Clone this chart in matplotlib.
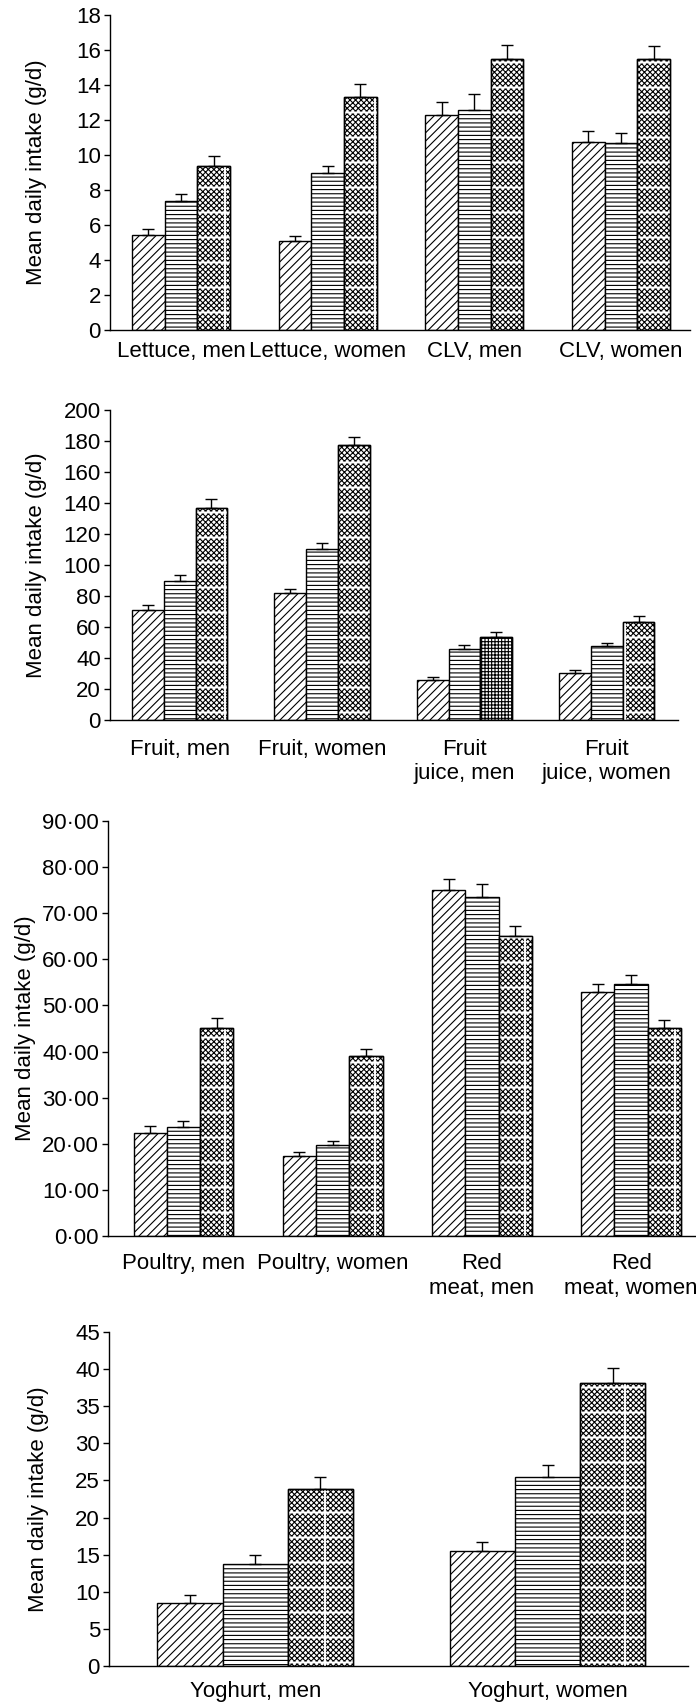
import warnings
import numpy as np
import matplotlib
matplotlib.use('Agg')
import matplotlib.pyplot as plt
import matplotlib.hatch as mhatch
from matplotlib.path import Path
from matplotlib.ticker import FuncFormatter, MultipleLocator

warnings.filterwarnings('ignore', message='hatch must consist')

plt.rcParams['font.family'] = ['Liberation Sans', 'DejaVu Sans']
plt.rcParams['hatch.linewidth'] = 0.8

# ---- data: mean intake by tertile (low, mid, high) and upper SE ----
veg_labels = ['Lettuce, men', 'Lettuce, women', 'CLV, men', 'CLV, women']
veg_means = [[5.45, 5.1, 12.3, 10.75],
             [7.35, 8.95, 12.6, 10.7],
             [9.35, 13.3, 15.5, 15.5]]
veg_se = [[0.3, 0.25, 0.75, 0.65],
          [0.45, 0.4, 0.9, 0.55],
          [0.6, 0.75, 0.8, 0.75]]

fruit_labels = ['Fruit, men', 'Fruit, women', 'Fruit\njuice, men', 'Fruit\njuice, women']
fruit_means = [[71, 82, 25.5, 30.5],
               [89.5, 110.5, 45.5, 47.5],
               [137, 177.5, 53.5, 63.5]]
fruit_se = [[3.5, 2.5, 2, 2],
            [4, 3.5, 3, 2.5],
            [5.5, 5, 3.5, 3.5]]

meat_labels = ['Poultry, men', 'Poultry, women', 'Red\nmeat, men', 'Red\nmeat, women']
meat_means = [[22.4, 17.4, 75.1, 53.0],
              [23.7, 19.8, 73.6, 54.7],
              [45.1, 39.0, 65.0, 45.1]]
meat_se = [[1.5, 0.9, 2.3, 1.6],
           [1.2, 0.9, 2.8, 1.8],
           [2.1, 1.5, 2.3, 1.8]]

yog_labels = ['Yoghurt, men', 'Yoghurt, women']
yog_means = [[8.5, 15.5],
             [13.7, 25.5],
             [23.8, 38.1]]
yog_se = [[1.1, 1.15],
          [1.25, 1.55],
          [1.7, 2.0]]


# sparse white grid that cuts through the top-tertile fill
class WhiteGrid(mhatch.HatchPatternBase):
    def __init__(self, hatch, density):
        n = hatch.count('g')
        self.rows = 4 * n
        self.cols = 2 * n
        self.num_vertices = (self.rows + self.cols) * 2

    def set_vertices_and_codes(self, vertices, codes):
        r = (np.arange(self.rows) + 0.5) / self.rows
        c = (np.arange(self.cols) + 0.5) / self.cols
        k = self.rows * 2
        vertices[0:k:2] = np.column_stack([np.zeros_like(r), r])
        vertices[1:k:2] = np.column_stack([np.ones_like(r), r])
        vertices[k::2] = np.column_stack([c, np.zeros_like(c)])
        vertices[k + 1::2] = np.column_stack([c, np.ones_like(c)])
        codes[0::2] = Path.MOVETO
        codes[1::2] = Path.LINETO


mhatch._hatch_types.append(WhiteGrid)

W, H = 696, 1707
fig = plt.figure(figsize=(W / 100, H / 100), dpi=100)

FILLS = ['////', '----', 'xxxxxx']
BW = 0.223
FS = 16


def add_panel(left, right, top, bottom):
    return fig.add_axes([left / W, 1 - bottom / H, (right - left) / W, (bottom - top) / H])


def draw_panel(ax, labels, means, ses, ymax, step, xlim, xpad, label_x,
               high_fill=None, fmt=None):
    n = len(labels)
    x = np.arange(n)
    for k in range(3):
        pos = x + (k - 1) * BW
        bars = ax.bar(pos, means[k], BW, color='white', edgecolor='black',
                      linewidth=1.0, hatch=FILLS[k], zorder=2)
        if k == 2:
            grid = ax.bar(pos, means[k], BW, fill=False, edgecolor='white',
                          linewidth=0, hatch='g', zorder=3)
            if high_fill:
                for i, h in enumerate(high_fill):
                    if h is not None:
                        bars[i].set_hatch(h)
                        grid[i].set_hatch(None)
            for p in grid:
                if hasattr(p, 'set_hatch_linewidth'):
                    p.set_hatch_linewidth(1.4)
            ax.bar(pos, means[k], BW, fill=False, edgecolor='black',
                   linewidth=1.0, zorder=4)
        ax.errorbar(pos, means[k], yerr=[np.zeros(n), ses[k]], fmt='none',
                    ecolor='black', elinewidth=1.0, capsize=4.3, capthick=1.0,
                    zorder=5)

    ax.set_ylim(0, ymax)
    ax.set_xlim(*xlim)
    ax.yaxis.set_major_locator(MultipleLocator(step))
    if fmt:
        ax.yaxis.set_major_formatter(FuncFormatter(fmt))
    ax.set_xticks(x)
    ax.set_xticklabels(labels, linespacing=1.2)
    for s in ['top', 'right']:
        ax.spines[s].set_visible(False)
    for s in ['left', 'bottom']:
        ax.spines[s].set_linewidth(1.0)
    ax.tick_params(axis='y', direction='out', length=4.5, width=1.0,
                   labelsize=FS, pad=2)
    ax.tick_params(axis='x', length=0, labelsize=FS, pad=xpad)
    ax.set_ylabel('Mean daily intake (g/d)', fontsize=FS)
    ax.yaxis.set_label_coords(label_x, 0.5)


def dot_fmt(v, pos):
    return '{:.2f}'.format(v).replace('.', '\u00b7')


def lab_x(px, left, right):
    return (px - left) / (right - left)


ax1 = add_panel(110, 690, 15, 330)
draw_panel(ax1, veg_labels, veg_means, veg_se, 18, 2, (-0.484, 3.47), 8,
           lab_x(47, 110, 690))

ax2 = add_panel(110, 678, 410, 720)
draw_panel(ax2, fruit_labels, fruit_means, fruit_se, 200, 20, (-0.49, 3.5), 13.5,
           lab_x(47, 110, 678), high_fill=[None, None, '+++++', None])

ax3 = add_panel(108, 696, 821, 1236)
draw_panel(ax3, meat_labels, meat_means, meat_se, 90, 10, (-0.506, 3.435), 12.5,
           lab_x(36, 108, 696), fmt=dot_fmt)

ax4 = add_panel(109, 688, 1332, 1666)
draw_panel(ax4, yog_labels, yog_means, yog_se, 45, 5, (-0.5, 1.48), 11,
           lab_x(49, 109, 688))

fig.savefig('out.png', dpi=100, facecolor='white')
